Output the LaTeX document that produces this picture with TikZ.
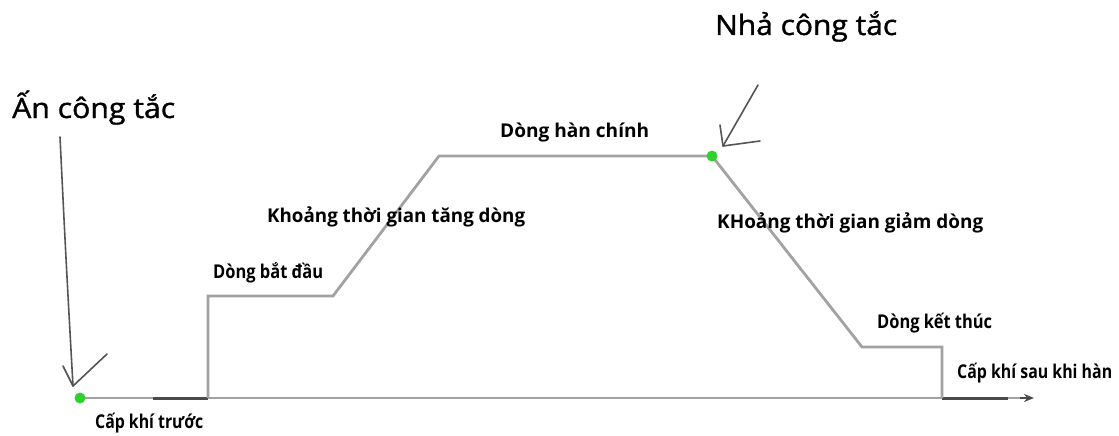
\documentclass[tikz,border=0pt]{standalone}
\usepackage{fontspec}
\usetikzlibrary{arrows.meta}
\setmainfont{Open Sans}
\newfontfamily\bigfont[FakeBold=1.2]{Open Sans}
\newfontfamily\labfont{Open Sans}
\definecolor{curvegray}{HTML}{A2A2A2}
\definecolor{darkseg}{HTML}{4A4A4A}
\definecolor{pointer}{HTML}{555555}
\definecolor{dotgreen}{HTML}{2ED12E}
\newcommand{\fitw}[2]{\resizebox{#1}{\height}{#2}}
\tikzset{
  big/.style={font=\bigfont\fontsize{28}{30}\selectfont, inner sep=0pt, anchor=base west},
  lab/.style={font=\labfont\bfseries\fontsize{19}{21}\selectfont, inner sep=0pt, anchor=base west},
  curve/.style={draw=curvegray, line width=2.8pt, line join=miter},
  dark/.style={draw=darkseg, line width=3pt},
  ptr/.style={draw=pointer, line width=1.6pt, line cap=round, line join=round},
  dot/.style={circle, fill=dotgreen, minimum size=11pt, inner sep=0pt}
}
\begin{document}
\begin{tikzpicture}[x=1pt,y=-1pt]
\useasboundingbox (0,0) rectangle (1119,436);
% key points of the curve
\coordinate (start) at (80,398);
\coordinate (up0) at (208,398);
\coordinate (up1) at (208,296);
\coordinate (r0) at (333,296);
\coordinate (r1) at (439,156);
\coordinate (rel) at (712,156);
\coordinate (d1) at (862,347);
\coordinate (e0) at (942,347);
\coordinate (e1) at (942,398);
\coordinate (axend) at (1034,398);
% baseline (time axis)
\draw[curve, -{Stealth[length=10pt,width=8pt]}, darkseg] (start) -- (axend);
\draw[curve] (start) -- (1020,398);
\draw[dark] (153,398) -- (up0);
\draw[dark] (e1) -- (1008,398);
% current profile
\draw[curve] (up0) -- (up1) -- (r0) -- (r1) -- (rel) -- (d1) -- (e0) -- (e1);
% green dots
\node[dot] (dotA) at (start) {};
\node[dot] (dotB) at (rel) {};
% pointer arrows
\coordinate (pA0) at (60,137);
\coordinate (pA1) at (66,260);
\coordinate (pAt) at (73,386);
\draw[ptr] (pA0) .. controls (pA1) .. (pAt);
\draw[ptr] (63,366) -- (pAt) -- (107,354);
\coordinate (pB0) at (758,85);
\coordinate (pBt) at (723,146);
\draw[ptr] (pB0) -- (pBt);
\draw[ptr] (720,125) -- (pBt) -- (760,141);
% texts
\node[big] (tA) at (12,118) {\fitw{163pt}{Ấn công tắc}};
\node[big] (tB) at (715,35) {\fitw{182pt}{Nhả công tắc}};
\node[lab] (l1) at (500,137) {\fitw{149pt}{Dòng hàn chính}};
\node[lab] (l2) at (267,222) {\fitw{258pt}{Khoảng thời gian tăng dòng}};
\node[lab] (l3) at (213,278) {\fitw{110pt}{Dòng bắt đầu}};
\node[lab] (l4) at (717,228) {\fitw{266pt}{KHoảng thời gian giảm dòng}};
\node[lab] (l5) at (877,328) {\fitw{115pt}{Dòng kết thúc}};
\node[lab] (l6) at (957,378) {\fitw{155pt}{Cấp khí sau khi hàn}};
\node[lab] (l7) at (95,428) {\fitw{108pt}{Cấp khí trước}};
\end{tikzpicture}
\end{document}
